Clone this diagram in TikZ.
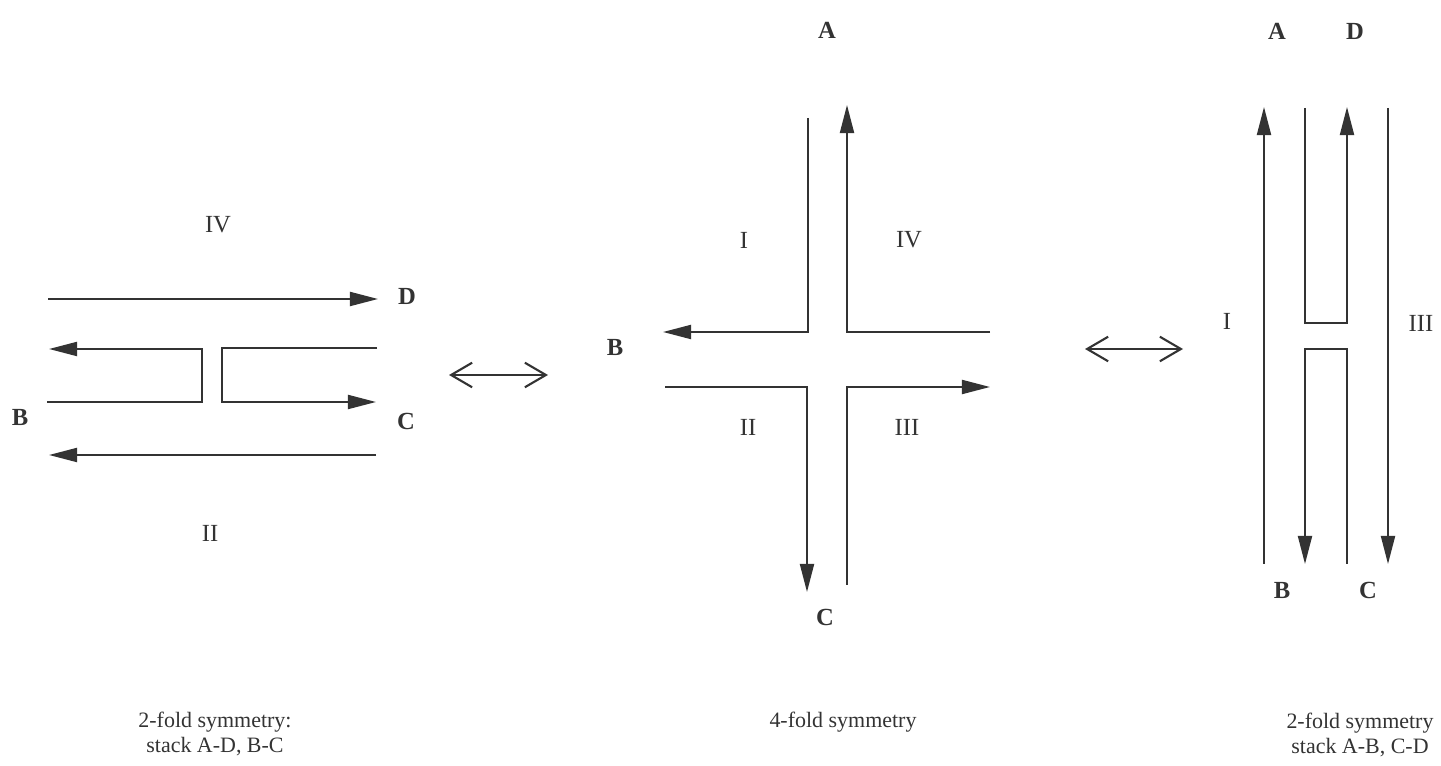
\documentclass[tikz,border=0pt]{standalone}
\usepackage{fontspec}
\setmainfont{Liberation Serif}
\usetikzlibrary{arrows.meta}
\definecolor{ink}{HTML}{333333}
\tikzset{
  strand/.style={draw=ink, line width=1.1pt, -{Triangle[length=16pt,width=8pt]}},
  swap/.style={draw=ink, line width=1.2pt, {Straight Barb[length=12pt,width=14pt]}-{Straight Barb[length=12pt,width=14pt]}},
  end/.style={font=\fontsize{14}{16}\selectfont\bfseries, text=ink},
  quad/.style={font=\fontsize{14}{16}\selectfont, text=ink},
  caption/.style={font=\fontsize{12.5}{14}\selectfont, text=ink, align=center},
}
\begin{document}
\begin{tikzpicture}[x=0.02cm, y=-0.02cm]
  \useasboundingbox (0,0) rectangle (1441,766);
  % 2-fold, stack A-D, B-C
  \draw[strand] (48,299) -- (378,299);
  \draw[strand] (47,402) -- (202,402) -- (202,349) -- (49,349);
  \draw[strand] (377,348) -- (222,348) -- (222,402) -- (376,402);
  \draw[strand] (376,455) -- (49,455);
  \node[quad] (l4) at (218,225) {IV};
  \node[quad] (l2) at (210,533) {II};
  \node[end] (lD) at (407,296) {D};
  \node[end] (lB) at (20,417) {B};
  \node[end] (lC) at (406,421) {C};
  \node[caption] (lcap) at (215,734) {2-fold symmetry:\\stack A-D, B-C};
  % 4-fold
  \draw[strand] (808,118) -- (808,332) -- (663,332);
  \draw[strand] (990,332) -- (847,332) -- (847,105);
  \draw[strand] (665,387) -- (807,387) -- (807,592);
  \draw[strand] (847,585) -- (847,387) -- (990,387);
  \node[end] (cA) at (827,30) {A};
  \node[end] (cB) at (615,347) {B};
  \node[end] (cC) at (825,617) {C};
  \node[quad] (c1) at (744,240) {I};
  \node[quad] (c4) at (909,240) {IV};
  \node[quad] (c2) at (748,427) {II};
  \node[quad] (c3) at (907,427) {III};
  \node[caption] (ccap) at (843,722) {4-fold symmetry};
  % 2-fold, stack A-B, C-D
  \draw[strand] (1264,564) -- (1264,107);
  \draw[strand] (1305,108) -- (1305,323) -- (1347,323) -- (1347,107);
  \draw[strand] (1347,564) -- (1347,349) -- (1305,349) -- (1305,564);
  \draw[strand] (1388,108) -- (1388,564);
  \node[end] (rA) at (1277,31) {A};
  \node[end] (rD) at (1355,31) {D};
  \node[end] (rB) at (1282,590) {B};
  \node[end] (rC) at (1368,590) {C};
  \node[quad] (r1) at (1227,321) {I};
  \node[quad] (r3) at (1421,323) {III};
  \node[caption] (rcap) at (1360,735) {2-fold symmetry\\stack A-B, C-D};
  % equivalences
  \coordinate (s1) at (449,375); \coordinate (s2) at (548,375);
  \coordinate (s3) at (1085,349); \coordinate (s4) at (1183,349);
  \draw[swap] (s1) -- (s2);
  \draw[swap] (s3) -- (s4);
\end{tikzpicture}
\end{document}
